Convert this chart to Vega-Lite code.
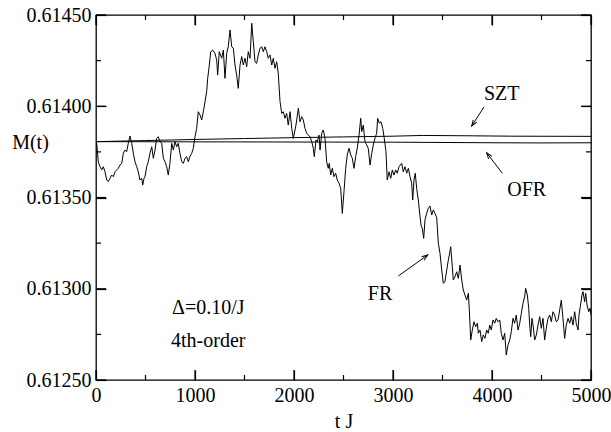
{
"$schema": "https://vega.github.io/schema/vega-lite/v6.json",
"width": 495, "height": 365,
"autosize": "none",
"padding": {"left": 96, "top": 15, "right": 20, "bottom": 52},
"background": "white",
"config": {
 "view": {"stroke": "black", "strokeWidth": 1.3},
 "axis": {"domain": false, "ticks": true, "tickSize": -10, "tickColor": "black", "tickWidth": 1.2, "labelColor": "black", "titleColor": "black", "labelFont": "Liberation Serif", "titleFont": "Liberation Serif", "labelFontSize": 20, "titleFontSize": 20, "titleFontWeight": "normal", "grid": false, "labelOverlap": false, "labelFlush": false},
 "text": {"font": "Liberation Serif", "fontSize": 20, "color": "black"}
},
"datasets": {
 "frdata": [
{"t":0,"M":0.613806},{"t":7,"M":0.613797},{"t":23,"M":0.613696},{"t":40,"M":0.613669},{"t":58,"M":0.613651},{"t":74,"M":0.613669},{"t":91,"M":0.613641},{"t":108,"M":0.613596},{"t":124,"M":0.613587},{"t":141,"M":0.613605},{"t":159,"M":0.613623},{"t":175,"M":0.613614},{"t":192,"M":0.613641},{"t":209,"M":0.613651},{"t":225,"M":0.61366},{"t":242,"M":0.613678},{"t":260,"M":0.613687},{"t":276,"M":0.613742},{"t":293,"M":0.61376},{"t":310,"M":0.613751},{"t":326,"M":0.613797},{"t":343,"M":0.613837},{"t":361,"M":0.613797},{"t":377,"M":0.613742},{"t":394,"M":0.613696},{"t":411,"M":0.613669},{"t":427,"M":0.613641},{"t":444,"M":0.613596},{"t":462,"M":0.613605},{"t":472,"M":0.613568},{"t":485,"M":0.613605},{"t":495,"M":0.613614},{"t":512,"M":0.613669},{"t":528,"M":0.613696},{"t":545,"M":0.613742},{"t":563,"M":0.613778},{"t":579,"M":0.613715},{"t":596,"M":0.61376},{"t":613,"M":0.613824},{"t":629,"M":0.613833},{"t":646,"M":0.613806},{"t":664,"M":0.613797},{"t":680,"M":0.613715},{"t":697,"M":0.613696},{"t":714,"M":0.613669},{"t":730,"M":0.613623},{"t":747,"M":0.613687},{"t":765,"M":0.613797},{"t":781,"M":0.61376},{"t":798,"M":0.613806},{"t":815,"M":0.613778},{"t":831,"M":0.613797},{"t":848,"M":0.613742},{"t":866,"M":0.613696},{"t":882,"M":0.613687},{"t":899,"M":0.613715},{"t":916,"M":0.613724},{"t":932,"M":0.613696},{"t":949,"M":0.613724},{"t":967,"M":0.613742},{"t":983,"M":0.61377},{"t":1000,"M":0.613833},
{"t":1017,"M":0.613879},{"t":1033,"M":0.61397},{"t":1051,"M":0.613952},{"t":1068,"M":0.613925},{"t":1084,"M":0.61397},{"t":1101,"M":0.614025},{"t":1118,"M":0.61408},{"t":1128,"M":0.614153},{"t":1141,"M":0.614208},{"t":1159,"M":0.614299},{"t":1179,"M":0.614308},{"t":1202,"M":0.61429},{"t":1219,"M":0.614253},{"t":1229,"M":0.614171},{"t":1245,"M":0.614299},{"t":1270,"M":0.614263},{"t":1286,"M":0.614308},{"t":1303,"M":0.614153},{"t":1320,"M":0.61429},{"t":1336,"M":0.614326},{"t":1354,"M":0.614418},{"t":1371,"M":0.614326},{"t":1387,"M":0.614318},{"t":1404,"M":0.614226},{"t":1421,"M":0.614171},{"t":1437,"M":0.614098},{"t":1455,"M":0.614226},{"t":1472,"M":0.614272},{"t":1488,"M":0.614226},{"t":1505,"M":0.614263},{"t":1522,"M":0.614217},{"t":1538,"M":0.614299},{"t":1556,"M":0.614263},{"t":1573,"M":0.614455},{"t":1589,"M":0.614354},{"t":1606,"M":0.614244},{"t":1623,"M":0.614235},{"t":1639,"M":0.614281},{"t":1657,"M":0.614318},{"t":1674,"M":0.614326},{"t":1690,"M":0.614299},{"t":1707,"M":0.614326},{"t":1724,"M":0.614299},{"t":1740,"M":0.614263},{"t":1758,"M":0.614281},{"t":1775,"M":0.614226},{"t":1791,"M":0.614263},{"t":1808,"M":0.614208},{"t":1825,"M":0.614244},{"t":1841,"M":0.614181},{"t":1859,"M":0.614025},{"t":1876,"M":0.613961},{"t":1892,"M":0.61397},{"t":1909,"M":0.613934},{"t":1926,"M":0.613961},{"t":1942,"M":0.613897},{"t":1960,"M":0.61397},{"t":1977,"M":0.613879},{"t":1993,"M":0.613824},{"t":2020,"M":0.613897},
{"t":2044,"M":0.613989},{"t":2061,"M":0.613915},{"t":2078,"M":0.613943},{"t":2094,"M":0.613925},{"t":2111,"M":0.613879},{"t":2128,"M":0.613852},{"t":2144,"M":0.613842},{"t":2162,"M":0.613833},{"t":2179,"M":0.613806},{"t":2195,"M":0.61377},{"t":2205,"M":0.613724},{"t":2222,"M":0.613815},{"t":2235,"M":0.613806},{"t":2253,"M":0.613842},{"t":2263,"M":0.61376},{"t":2280,"M":0.613852},{"t":2296,"M":0.61387},{"t":2313,"M":0.613824},{"t":2330,"M":0.613696},{"t":2346,"M":0.61366},{"t":2356,"M":0.613687},{"t":2371,"M":0.613623},{"t":2387,"M":0.61366},{"t":2404,"M":0.613614},{"t":2421,"M":0.613633},{"t":2437,"M":0.613596},{"t":2455,"M":0.613578},{"t":2472,"M":0.61355},{"t":2488,"M":0.613413},{"t":2505,"M":0.613532},{"t":2522,"M":0.61366},{"t":2538,"M":0.613733},{"t":2556,"M":0.61377},{"t":2573,"M":0.613733},{"t":2589,"M":0.613715},{"t":2606,"M":0.61366},{"t":2623,"M":0.613724},{"t":2639,"M":0.61377},{"t":2657,"M":0.613842},{"t":2674,"M":0.613934},{"t":2684,"M":0.613861},{"t":2700,"M":0.613897},{"t":2717,"M":0.613806},{"t":2734,"M":0.613788},{"t":2750,"M":0.61377},{"t":2768,"M":0.613678},{"t":2785,"M":0.613742},{"t":2801,"M":0.613788},{"t":2818,"M":0.613824},{"t":2835,"M":0.613852},{"t":2845,"M":0.613934},{"t":2862,"M":0.613907},{"t":2879,"M":0.613915},{"t":2896,"M":0.613879},{"t":2912,"M":0.613824},{"t":2929,"M":0.613751},{"t":2942,"M":0.613596},{"t":2960,"M":0.613641},{"t":2977,"M":0.613605},{"t":2993,"M":0.613651},{"t":3010,"M":0.613623},{"t":3027,"M":0.613651},{"t":3043,"M":0.613633},{"t":3061,"M":0.613669},
{"t":3088,"M":0.613687},{"t":3104,"M":0.613641},{"t":3121,"M":0.613669},{"t":3138,"M":0.613633},{"t":3155,"M":0.61366},{"t":3172,"M":0.613614},{"t":3189,"M":0.613578},{"t":3199,"M":0.613486},{"t":3212,"M":0.613596},{"t":3225,"M":0.613633},{"t":3239,"M":0.61355},{"t":3256,"M":0.613486},{"t":3273,"M":0.613395},{"t":3283,"M":0.613349},{"t":3296,"M":0.613331},{"t":3310,"M":0.613276},{"t":3323,"M":0.613377},{"t":3340,"M":0.613413},{"t":3356,"M":0.613441},{"t":3374,"M":0.613453},{"t":3391,"M":0.613404},{"t":3407,"M":0.613432},{"t":3424,"M":0.613413},{"t":3441,"M":0.613391},{"t":3458,"M":0.613249},{"t":3475,"M":0.613194},{"t":3492,"M":0.613103},{"t":3508,"M":0.61303},{"t":3525,"M":0.613039},{"t":3543,"M":0.613103},{"t":3559,"M":0.613158},{"t":3569,"M":0.613185},{"t":3583,"M":0.61323},{"t":3599,"M":0.613121},{"t":3609,"M":0.613048},{"t":3626,"M":0.613066},{"t":3643,"M":0.613093},{"t":3660,"M":0.613057},{"t":3677,"M":0.61313},{"t":3694,"M":0.613048},{"t":3710,"M":0.612993},{"t":3727,"M":0.612966},{"t":3744,"M":0.612938},{"t":3761,"M":0.612975},{"t":3771,"M":0.612884},{"t":3785,"M":0.612719},{"t":3801,"M":0.612774},{"t":3818,"M":0.612819},{"t":3835,"M":0.612792},{"t":3852,"M":0.612811},{"t":3862,"M":0.612756},{"t":3879,"M":0.612774},{"t":3896,"M":0.61271},{"t":3912,"M":0.612747},{"t":3929,"M":0.612728},{"t":3946,"M":0.612774},{"t":3962,"M":0.612756},
{"t":3977,"M":0.612801},{"t":3993,"M":0.612774},{"t":4010,"M":0.612829},{"t":4027,"M":0.612811},{"t":4043,"M":0.612838},{"t":4061,"M":0.612819},{"t":4078,"M":0.612829},{"t":4094,"M":0.612756},{"t":4111,"M":0.612719},{"t":4128,"M":0.612756},{"t":4144,"M":0.612637},{"t":4162,"M":0.612692},{"t":4179,"M":0.612719},{"t":4195,"M":0.612765},{"t":4212,"M":0.612838},{"t":4229,"M":0.612811},{"t":4245,"M":0.612856},{"t":4263,"M":0.612774},{"t":4280,"M":0.612811},{"t":4296,"M":0.612865},{"t":4313,"M":0.61292},{"t":4330,"M":0.612956},{"t":4340,"M":0.613002},{"t":4357,"M":0.612966},{"t":4371,"M":0.612893},{"t":4381,"M":0.612801},{"t":4391,"M":0.612737},{"t":4404,"M":0.612838},{"t":4417,"M":0.612792},{"t":4431,"M":0.612719},{"t":4448,"M":0.612747},{"t":4465,"M":0.612801},{"t":4482,"M":0.612847},{"t":4498,"M":0.612783},{"t":4515,"M":0.612838},{"t":4532,"M":0.612719},{"t":4548,"M":0.612783},{"t":4566,"M":0.612838},{"t":4583,"M":0.612856},{"t":4599,"M":0.612819},{"t":4616,"M":0.612874},{"t":4633,"M":0.612856},{"t":4649,"M":0.612819},{"t":4667,"M":0.612829},{"t":4684,"M":0.612884},{"t":4700,"M":0.612938},{"t":4717,"M":0.612838},{"t":4734,"M":0.612728},{"t":4750,"M":0.612801},{"t":4768,"M":0.612838},{"t":4785,"M":0.612811},{"t":4801,"M":0.612847},{"t":4818,"M":0.612801},{"t":4835,"M":0.612874},{"t":4851,"M":0.612811},{"t":4869,"M":0.612774},{"t":4879,"M":0.612856},{"t":4892,"M":0.612902},{"t":4909,"M":0.612966},{"t":4919,"M":0.612984},{"t":4936,"M":0.612929},{"t":4946,"M":0.612975},{"t":4960,"M":0.612911},{"t":4977,"M":0.612874},{"t":4990,"M":0.612893},{"t":5000,"M":0.612856}
 ],
 "refdata": [
{"series":"SZT","t":0,"M":0.613806},{"series":"SZT","t":500,"M":0.613812},{"series":"SZT","t":1000,"M":0.613818},{"series":"SZT","t":1500,"M":0.613823},{"series":"SZT","t":2000,"M":0.613828},{"series":"SZT","t":2500,"M":0.613832},{"series":"SZT","t":3000,"M":0.613836},{"series":"SZT","t":3300,"M":0.61384},{"series":"SZT","t":3800,"M":0.613838},{"series":"SZT","t":4200,"M":0.613836},{"series":"SZT","t":5000,"M":0.613835},
{"series":"OFR","t":0,"M":0.613806},{"series":"OFR","t":1000,"M":0.613805},{"series":"OFR","t":2000,"M":0.613804},{"series":"OFR","t":3000,"M":0.613803},{"series":"OFR","t":4000,"M":0.6138},{"series":"OFR","t":4500,"M":0.613799},{"series":"OFR","t":5000,"M":0.6138}
 ],
 "annot": [
{"t":4098,"M":0.614069,"note":"SZT"},{"t":4351,"M":0.613541,"note":"OFR"},{"t":2869,"M":0.61297,"note":"FR"},{"t":1134,"M":0.612896,"note":"Δ=0.10/J"},{"t":1134,"M":0.612714,"note":"4th-order"}
 ],
 "arrowdata": [
{"name":"SZT","t":3919,"M":0.613996,"t2":3795,"M2":0.613892},
{"name":"OFR","t":4104,"M":0.613633,"t2":3946,"M2":0.613745},
{"name":"FR","t":3054,"M":0.61307,"t2":3351,"M2":0.613185}
 ],
 "xt": [
{"t":0,"kind":"major"},{"t":500,"kind":"minor"},{"t":1000,"kind":"major"},{"t":1500,"kind":"minor"},{"t":2000,"kind":"major"},{"t":2500,"kind":"minor"},{"t":3000,"kind":"major"},{"t":3500,"kind":"minor"},{"t":4000,"kind":"major"},{"t":4500,"kind":"minor"},{"t":5000,"kind":"major"}
 ],
 "yt": [
{"M":0.6125,"kind":"major"},{"M":0.61275,"kind":"minor"},{"M":0.613,"kind":"major"},{"M":0.61325,"kind":"minor"},{"M":0.6135,"kind":"major"},{"M":0.61375,"kind":"minor"},{"M":0.614,"kind":"major"},{"M":0.61425,"kind":"minor"},{"M":0.6145,"kind":"major"}
 ]
},
"resolve": {"axis": {"x": "independent", "y": "independent"}},
"layer": [
 {
  "data": {"name": "frdata"},
  "mark": {"type": "line", "color": "black", "strokeWidth": 1, "clip": true},
  "encoding": {
   "x": {"field": "t", "type": "quantitative", "scale": {"domain": [0, 5000], "nice": false, "zero": false},
     "axis": {"orient": "bottom", "values": [0,1000,2000,3000,4000,5000], "format": "d", "tickSize": -10,
       "labelPadding": 15.5, "title": "t J", "titleBaseline": "alphabetic", "titleY": 47}},
   "y": {"field": "M", "type": "quantitative", "scale": {"domain": [0.6125, 0.6145], "nice": false, "zero": false},
     "axis": {"orient": "left", "values": [0.6125,0.613,0.6135,0.614,0.6145], "format": ".5f", "tickSize": -10,
       "labelPadding": 15, "title": "M(t)", "titleAngle": 0, "titleAlign": "center", "titleBaseline": "middle", "titleX": -66, "titleY": 127}}
  }
 },
 {
  "data": {"name": "refdata"},
  "mark": {"type": "line", "color": "black", "strokeWidth": 1, "clip": true},
  "encoding": {
   "detail": {"field": "series"},
   "x": {"field": "t", "type": "quantitative", "scale": {"domain": [0, 5000], "nice": false, "zero": false},
     "axis": {"orient": "top", "values": [0,1000,2000,3000,4000,5000], "labels": false, "title": null, "tickSize": -10}},
   "y": {"field": "M", "type": "quantitative", "scale": {"domain": [0.6125, 0.6145], "nice": false, "zero": false},
     "axis": {"orient": "right", "values": [0.6125,0.613,0.6135,0.614,0.6145], "labels": false, "title": null, "tickSize": -10}}
  }
 },
 {
  "data": {"name": "xt"},
  "transform": [{"filter": "datum.kind === 'major'"}],
  "mark": {"type": "point", "shape": "M0,0L0,-2", "filled": false, "stroke": "black", "strokeWidth": 1.2, "size": 100, "opacity": 1},
  "encoding": {
   "x": {"field": "t", "type": "quantitative", "axis": null},
   "y": {"datum": 0.6125, "type": "quantitative", "axis": null}
  }
 },
 {
  "data": {"name": "xt"},
  "transform": [{"filter": "datum.kind === 'minor'"}],
  "mark": {"type": "point", "shape": "M0,0L0,-2", "filled": false, "stroke": "black", "strokeWidth": 1.2, "size": 25, "opacity": 1},
  "encoding": {
   "x": {"field": "t", "type": "quantitative", "axis": null},
   "y": {"datum": 0.6125, "type": "quantitative", "axis": null}
  }
 },
 {
  "data": {"name": "xt"},
  "transform": [{"filter": "datum.kind === 'major'"}],
  "mark": {"type": "point", "shape": "M0,0L0,2", "filled": false, "stroke": "black", "strokeWidth": 1.2, "size": 100, "opacity": 1},
  "encoding": {
   "x": {"field": "t", "type": "quantitative", "axis": null},
   "y": {"datum": 0.6145, "type": "quantitative", "axis": null}
  }
 },
 {
  "data": {"name": "xt"},
  "transform": [{"filter": "datum.kind === 'minor'"}],
  "mark": {"type": "point", "shape": "M0,0L0,2", "filled": false, "stroke": "black", "strokeWidth": 1.2, "size": 25, "opacity": 1},
  "encoding": {
   "x": {"field": "t", "type": "quantitative", "axis": null},
   "y": {"datum": 0.6145, "type": "quantitative", "axis": null}
  }
 },
 {
  "data": {"name": "yt"},
  "transform": [{"filter": "datum.kind === 'major'"}],
  "mark": {"type": "point", "shape": "M0,0L2,0", "filled": false, "stroke": "black", "strokeWidth": 1.2, "size": 100, "opacity": 1},
  "encoding": {
   "y": {"field": "M", "type": "quantitative", "axis": null},
   "x": {"datum": 0, "type": "quantitative", "axis": null}
  }
 },
 {
  "data": {"name": "yt"},
  "transform": [{"filter": "datum.kind === 'minor'"}],
  "mark": {"type": "point", "shape": "M0,0L2,0", "filled": false, "stroke": "black", "strokeWidth": 1.2, "size": 25, "opacity": 1},
  "encoding": {
   "y": {"field": "M", "type": "quantitative", "axis": null},
   "x": {"datum": 0, "type": "quantitative", "axis": null}
  }
 },
 {
  "data": {"name": "yt"},
  "transform": [{"filter": "datum.kind === 'major'"}],
  "mark": {"type": "point", "shape": "M0,0L-2,0", "filled": false, "stroke": "black", "strokeWidth": 1.2, "size": 100, "opacity": 1},
  "encoding": {
   "y": {"field": "M", "type": "quantitative", "axis": null},
   "x": {"datum": 5000, "type": "quantitative", "axis": null}
  }
 },
 {
  "data": {"name": "yt"},
  "transform": [{"filter": "datum.kind === 'minor'"}],
  "mark": {"type": "point", "shape": "M0,0L-2,0", "filled": false, "stroke": "black", "strokeWidth": 1.2, "size": 25, "opacity": 1},
  "encoding": {
   "y": {"field": "M", "type": "quantitative", "axis": null},
   "x": {"datum": 5000, "type": "quantitative", "axis": null}
  }
 },
 {
  "data": {"name": "annot"},
  "mark": {"type": "text", "align": "center", "baseline": "middle"},
  "encoding": {
   "x": {"field": "t", "type": "quantitative", "axis": null},
   "y": {"field": "M", "type": "quantitative", "axis": null},
   "text": {"field": "note"}
  }
 },
 {
  "data": {"name": "arrowdata"},
  "mark": {"type": "rule", "color": "black", "strokeWidth": 1},
  "encoding": {
   "x": {"field": "t", "type": "quantitative", "axis": null},
   "y": {"field": "M", "type": "quantitative", "axis": null},
   "x2": {"field": "t2"},
   "y2": {"field": "M2"}
  }
 },
 {
  "data": {"name": "arrowdata"},
  "transform": [{"filter": "datum.name === 'SZT'"}],
  "mark": {"type": "point", "shape": "M-0.7,2L0,0L0.7,2", "filled": false, "stroke": "black", "strokeWidth": 1, "size": 36, "angle": 213, "opacity": 1},
  "encoding": {
   "x": {"field": "t2", "type": "quantitative", "axis": null},
   "y": {"field": "M2", "type": "quantitative", "axis": null}
  }
 },
 {
  "data": {"name": "arrowdata"},
  "transform": [{"filter": "datum.name === 'OFR'"}],
  "mark": {"type": "point", "shape": "M-0.7,2L0,0L0.7,2", "filled": false, "stroke": "black", "strokeWidth": 1, "size": 36, "angle": 323, "opacity": 1},
  "encoding": {
   "x": {"field": "t2", "type": "quantitative", "axis": null},
   "y": {"field": "M2", "type": "quantitative", "axis": null}
  }
 },
 {
  "data": {"name": "arrowdata"},
  "transform": [{"filter": "datum.name === 'FR'"}],
  "mark": {"type": "point", "shape": "M-0.7,2L0,0L0.7,2", "filled": false, "stroke": "black", "strokeWidth": 1, "size": 36, "angle": 54.5, "opacity": 1},
  "encoding": {
   "x": {"field": "t2", "type": "quantitative", "axis": null},
   "y": {"field": "M2", "type": "quantitative", "axis": null}
  }
 }
]
}
